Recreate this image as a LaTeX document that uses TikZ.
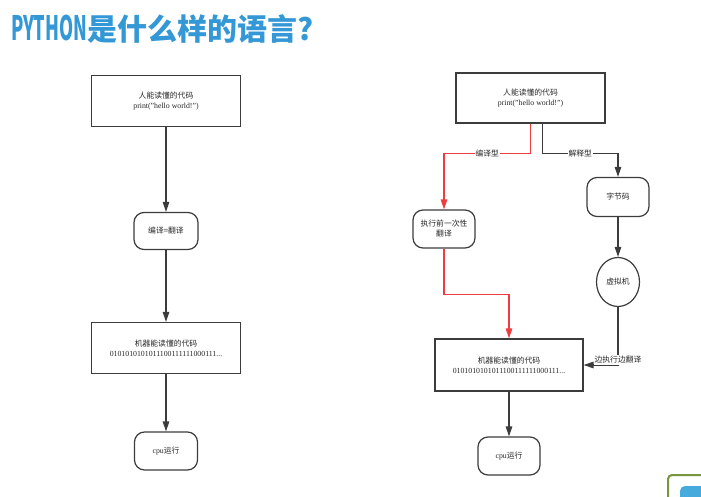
\documentclass[tikz,border=0pt]{standalone}
\usepackage{fontspec}
\usepackage{graphicx}
\setmainfont{Liberation Serif}
\newfontfamily\cjk{Noto Sans CJK SC}
\definecolor{TitleBlue}{RGB}{52,152,214}
\definecolor{LineGray}{RGB}{60,60,60}
\definecolor{FlowRed}{RGB}{240,60,60}
\definecolor{IconGreen}{RGB}{122,150,60}
\definecolor{IconBlue}{RGB}{70,170,220}
\usetikzlibrary{positioning,arrows.meta,shapes.geometric}

\begin{document}
\begin{tikzpicture}[x=1pt, y=-1pt,
      every node/.style={font=\fontsize{7.8}{10}\selectfont, align=center, text=black!85},
      codebox/.style={draw=LineGray, line width=1.2pt, minimum width=149pt, minimum height=51pt, inner sep=2pt},
      stepnode/.style={draw=LineGray, line width=1.2pt, rounded corners=10pt, minimum width=63pt, minimum height=38pt, inner sep=2pt},
      vmnode/.style={draw=LineGray, line width=1.2pt, ellipse, minimum width=43pt, minimum height=49pt, inner sep=1pt},
      arr/.style={-{Triangle[length=10pt,width=6.5pt]}, draw=LineGray, line width=1.3pt},
      redarr/.style={arr, draw=FlowRed},
      lbl/.style={fill=white, inner sep=1pt}
  ]
    \useasboundingbox (0,0) rectangle (701,497);
    % title
    \node[anchor=west, inner sep=0pt, text=TitleBlue, font=\cjk\bfseries\fontsize{30}{30}\selectfont] (title) at (11,29)
      {\scalebox{0.6}[1.12]{PYTHON}是什么样的语言?};

    % left column
    \node[codebox] (lsrc) at (166,101) {{\cjk 人能读懂的代码}\\print("hello world!")};
    \node[stepnode, minimum width=64pt, minimum height=37pt] (lcomp) at (166,231) {{\cjk 编译=翻译}};
    \node[codebox] (lmach) at (166,348) {{\cjk 机器能读懂的代码}\\0101010101011100111111000111...};
    \node[stepnode] (lcpu) at (166,451) {cpu{\cjk 运行}};
    \draw[arr] (lsrc) -- (lcomp);
    \draw[arr] (lcomp) -- (lmach);
    \draw[arr] (lmach) -- (lcpu);

    % right column
    \node[codebox, minimum height=50pt] (rsrc) at (530.5,98) {{\cjk 人能读懂的代码}\\print("hello world!")};
    \node[stepnode, minimum width=62pt] (rpre) at (444,229) {{\cjk 执行前一次性}\\{\cjk 翻译}};
    \node[stepnode, minimum width=62pt, minimum height=39pt] (rbyte) at (618,197) {{\cjk 字节码}};
    \node[vmnode] (rvm) at (618,282) {{\cjk 虚拟机}};
    \node[codebox, minimum width=148pt, minimum height=52pt] (rmach) at (509,365) {{\cjk 机器能读懂的代码}\\0101010101011100111111000111...};
    \node[stepnode, minimum width=62pt] (rcpu) at (509,456) {cpu{\cjk 运行}};

    \draw[redarr] (rsrc.south) -- ++(0,30) -| node[pos=0.25, lbl] {{\cjk 编译型}} (rpre.north);
    \draw[arr] ([xshift=12pt]rsrc.south) -- ++(0,30) -| node[pos=0.25, lbl] {{\cjk 解释型}} (rbyte.north);
    \draw[redarr] (rpre.south) -- ++(0,46) -| (rmach.north);
    \draw[arr] (rbyte) -- (rvm);
    \draw[arr] (rvm.south) |- node[pos=0.5, lbl, yshift=5pt] {{\cjk 边执行边翻译}} (rmach.east);
    \draw[arr] (rmach) -- (rcpu);

    % corner icon
    \begin{scope}
      \clip (0,0) rectangle (701,497);
      \draw[IconGreen, line width=2pt, fill=white, rounded corners=4pt] (668,475) rectangle (720,520);
      \fill[IconBlue, rounded corners=5pt] (680,486) rectangle (720,520);
    \end{scope}
  \end{tikzpicture}
\end{document}
